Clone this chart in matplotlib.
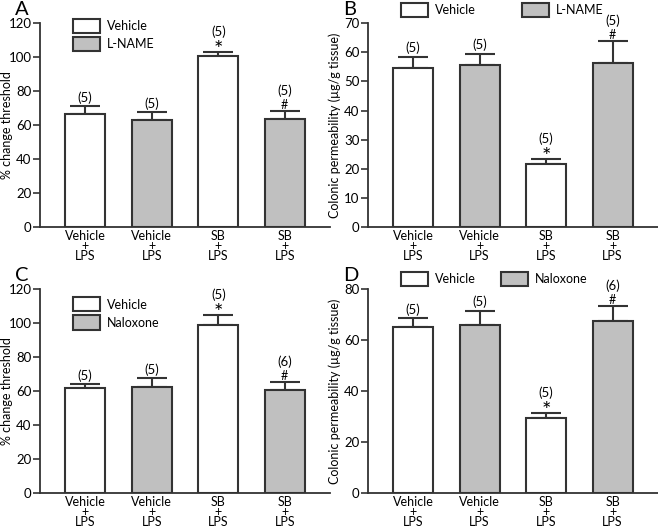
import matplotlib
matplotlib.use("Agg")
import matplotlib.pyplot as plt
from matplotlib.patches import Patch

plt.rcParams['font.family'] = ['Lato', 'DejaVu Sans']

groups = ["Vehicle\n+\nLPS", "Vehicle\n+\nLPS", "SB\n+\nLPS", "SB\n+\nLPS"]
fills = ["white", "#c0c0c0", "white", "#c0c0c0"]

# panel A: % change threshold, vehicle vs L-NAME
a_mean = [66.5, 63.0, 100.5, 63.5]
a_sem = [4.5, 4.5, 2.5, 5.0]
a_n = ["(5)", "(5)", "(5)", "(5)"]
a_sig = ["", "", "*", "#"]

# panel B: colonic permeability, vehicle vs L-NAME
b_mean = [54.5, 55.5, 21.5, 56.3]
b_sem = [4.0, 4.0, 2.0, 7.7]
b_n = ["(5)", "(5)", "(5)", "(5)"]
b_sig = ["", "", "*", "#"]

# panel C: % change threshold, vehicle vs naloxone
c_mean = [62.0, 62.5, 99.0, 60.5]
c_sem = [2.0, 5.0, 6.0, 5.0]
c_n = ["(5)", "(5)", "(5)", "(6)"]
c_sig = ["", "", "*", "#"]

# panel D: colonic permeability, vehicle vs naloxone
d_mean = [65.0, 66.0, 29.5, 67.5]
d_sem = [3.5, 5.5, 2.0, 6.0]
d_n = ["(5)", "(5)", "(5)", "(6)"]
d_sig = ["", "", "*", "#"]

edge = "#333333"

fig = plt.figure(figsize=(6.58, 5.28), dpi=100)


def panel(rect, mean, sem, ns, sigs, ymax, ystep, ylabel, letter, drug, horiz, leg_anchor, colsp):
    ax = fig.add_axes(rect)
    x = list(range(len(mean)))
    ax.bar(x, mean, width=0.6, color=fills, edgecolor=edge, linewidth=1.5, zorder=2)
    ax.errorbar(x, mean, yerr=[[0] * len(sem), sem], fmt='none', ecolor=edge,
                elinewidth=1.5, capsize=11, capthick=1.5, zorder=1)
    for xi, m, s, n, sg in zip(x, mean, sem, ns, sigs):
        top = m + s
        if sg:
            if sg == "*":
                ax.annotate(sg, (xi, top), xytext=(0, -6), textcoords='offset points',
                            ha='center', va='bottom', fontsize=16)
            else:
                ax.annotate(sg, (xi, top), xytext=(0, 0), textcoords='offset points',
                            ha='center', va='bottom', fontsize=9)
            ax.annotate(n, (xi, top), xytext=(0, 10), textcoords='offset points',
                        ha='center', va='bottom', fontsize=9.5)
        else:
            ax.annotate(n, (xi, top), xytext=(0, 2), textcoords='offset points',
                        ha='center', va='bottom', fontsize=9.5)
    ax.set_xlim(-0.68, 3.68)
    ax.set_ylim(0, ymax)
    ax.set_yticks(range(0, ymax + 1, ystep))
    ax.set_xticks(x)
    ax.set_xticklabels(groups, fontsize=9, linespacing=0.8)
    ax.tick_params(axis='x', length=0, pad=2)
    ax.tick_params(axis='y', length=5, width=1.2, labelsize=9.5, pad=1, color=edge)
    for side in ['top', 'right']:
        ax.spines[side].set_visible(False)
    for side in ['left', 'bottom']:
        ax.spines[side].set_linewidth(1.3)
        ax.spines[side].set_color(edge)
    ax.set_ylabel(ylabel, fontsize=9)
    ax.yaxis.set_label_coords(-0.093, 0.5)
    handles = [Patch(facecolor="white", edgecolor=edge, linewidth=1.5, label="Vehicle"),
               Patch(facecolor="#c0c0c0", edgecolor=edge, linewidth=1.5, label=drug)]
    ax.legend(handles=handles, loc='upper left', bbox_to_anchor=leg_anchor, frameon=False,
              ncol=2 if horiz else 1, fontsize=9, handlelength=2.16, handleheight=1.36,
              handletextpad=0.55, labelspacing=0.32, borderpad=0, borderaxespad=0,
              columnspacing=colsp)
    fig.text(rect[0] - 0.038, rect[1] + rect[3] + 0.015, letter, fontsize=14.5,
             va='baseline', ha='left')
    return ax


panel([0.0608, 0.570, 0.4407, 0.386], a_mean, a_sem, a_n, a_sig, 120, 20,
      "% change threshold", "A", "L-NAME", False, (0.114, 1.02), 1)
panel([0.559, 0.570, 0.4407, 0.386], b_mean, b_sem, b_n, b_sig, 70, 10,
      "Colonic permeability (µg/g tissue)", "B", "L-NAME", True, (0.114, 1.10), 3.7)
panel([0.0608, 0.0663, 0.4407, 0.386], c_mean, c_sem, c_n, c_sig, 120, 20,
      "% change threshold", "C", "Naloxone", False, (0.114, 0.96), 1)
panel([0.559, 0.0663, 0.4407, 0.386], d_mean, d_sem, d_n, d_sig, 80, 20,
      "Colonic permeability (µg/g tissue)", "D", "Naloxone", True, (0.114, 1.083), 2.0)

fig.savefig("out.png", dpi=100)
